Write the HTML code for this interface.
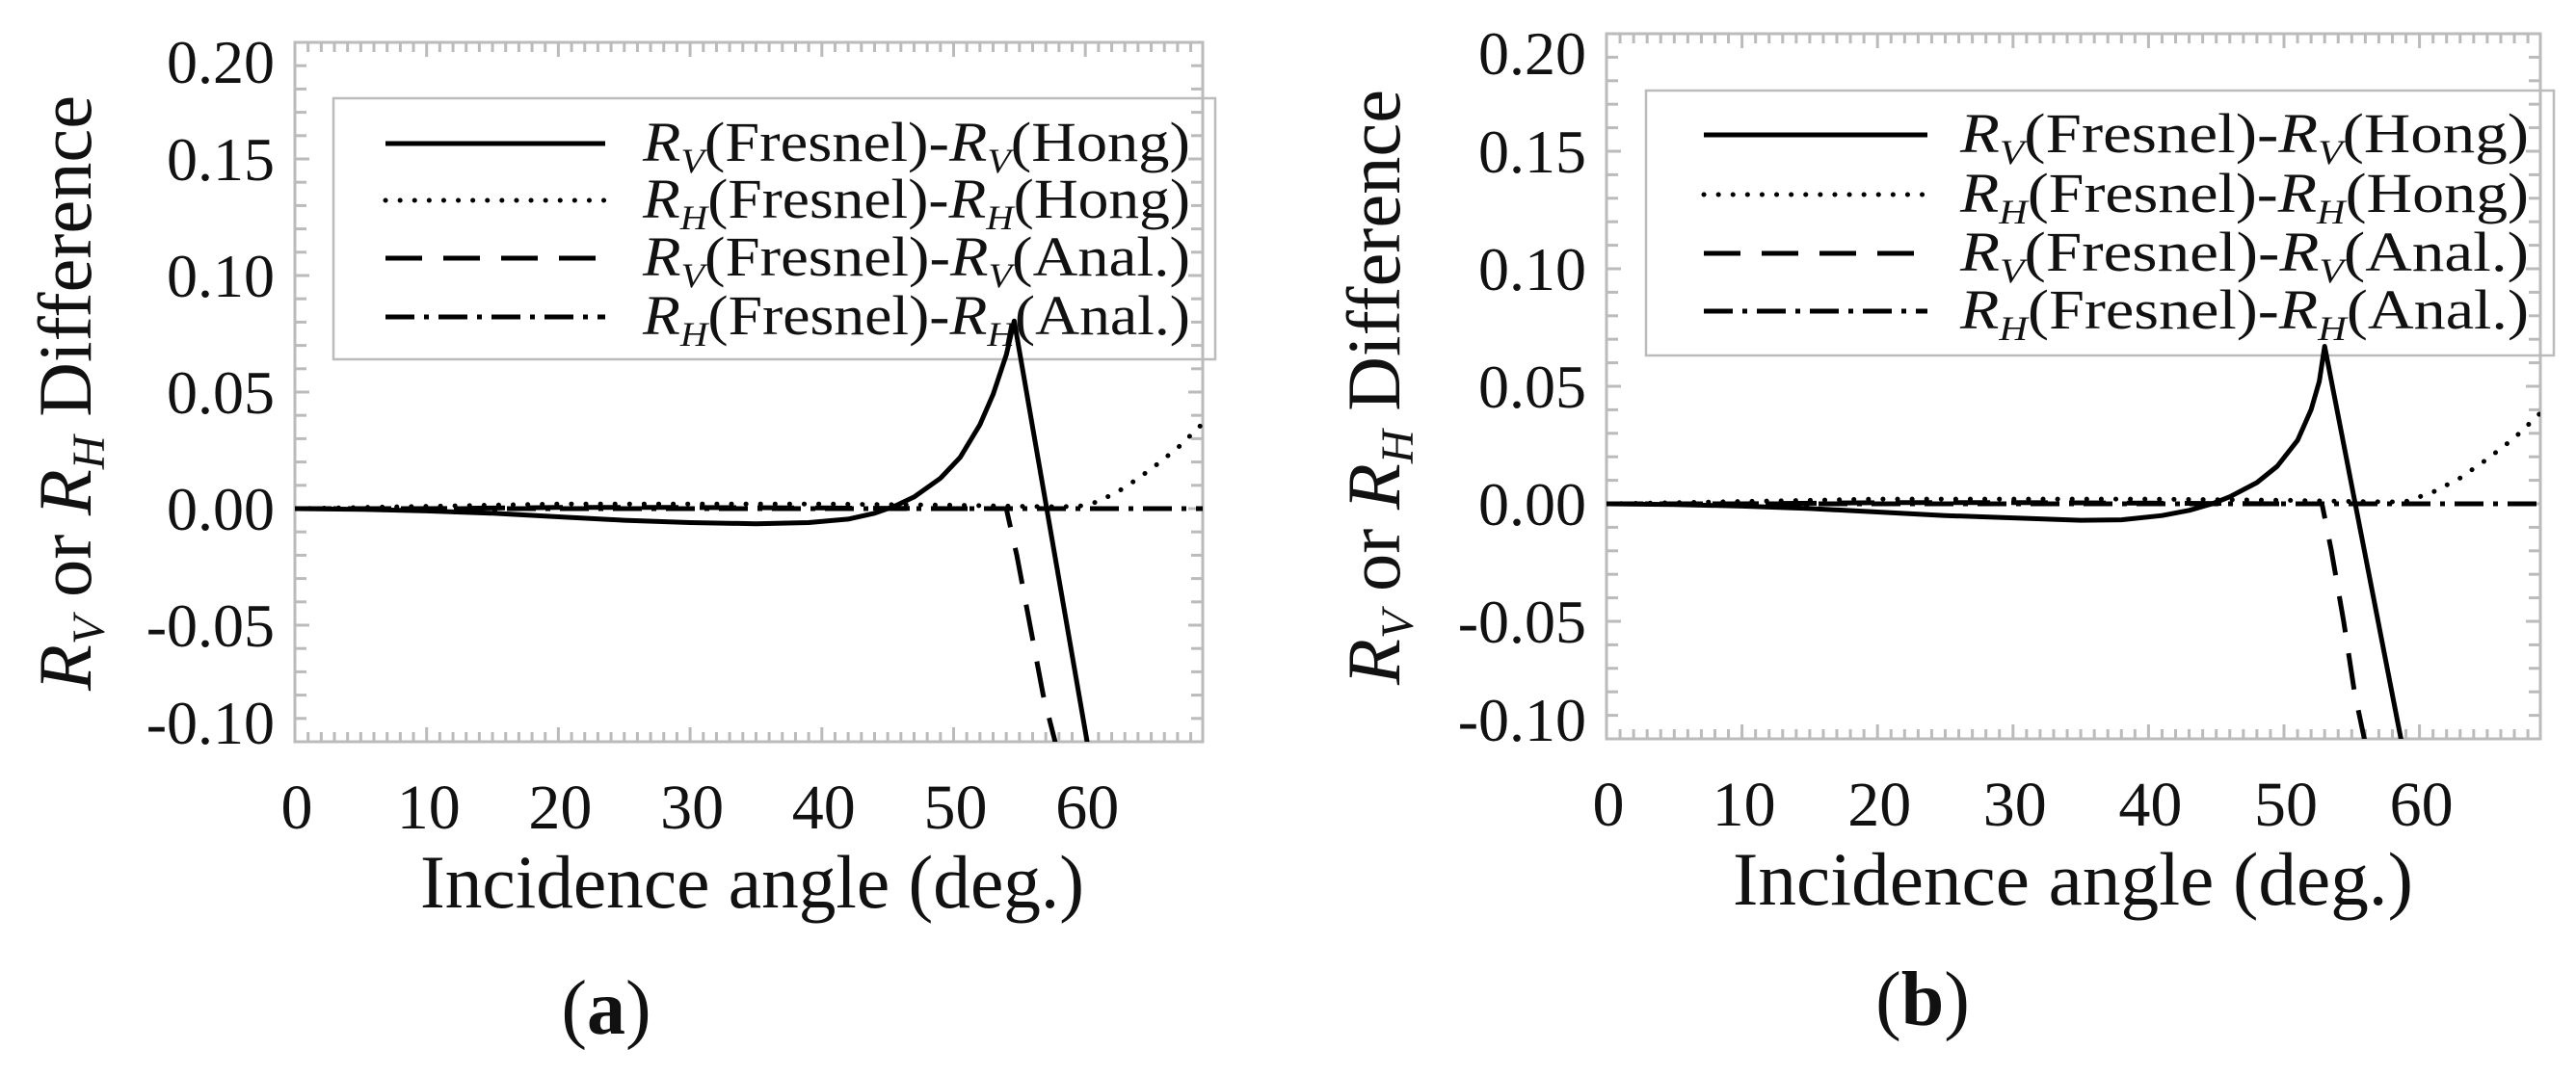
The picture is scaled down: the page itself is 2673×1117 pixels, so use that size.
<!DOCTYPE html>
<html><head><meta charset="utf-8"><style>
html,body{margin:0;padding:0;background:#fff;}
svg{display:block;font-family:"Liberation Serif",serif;}
</style></head><body>
<svg id="fig" width="2673" height="1117" viewBox="0 0 2673 1117" xmlns="http://www.w3.org/2000/svg"></svg>
<script>
// ---- data (angle in degrees, reflectivity difference) ----
const yTickValues = [0.20, 0.15, 0.10, 0.05, 0.00, -0.05, -0.10];
const yTickLabels = ["0.20", "0.15", "0.10", "0.05", "0.00", "-0.05", "-0.10"];
const xTickValues = [0, 10, 20, 30, 40, 50, 60];
const xTickLabels = ["0", "10", "20", "30", "40", "50", "60"];

const aSolidX = [0, 5, 10, 15, 20, 25, 30, 35, 39, 42, 44, 45.5, 47, 49, 50.5, 52, 53, 54, 54.6, 60.2];
const aSolidY = [0, -0.0003, -0.001, -0.002, -0.0035, -0.005, -0.006, -0.0065, -0.006, -0.0045, -0.002, 0.001, 0.005, 0.013, 0.022, 0.036, 0.049, 0.066, 0.0805, -0.102];
const aDotX = [0, 10, 20, 30, 40, 50, 55, 58, 59.5, 61, 63, 65, 67, 69];
const aDotY = [0, 0.001, 0.002, 0.002, 0.002, 0.0015, 0.001, 0.0008, 0.001, 0.003, 0.009, 0.017, 0.026, 0.037];
const aDashX = [0, 10, 20, 30, 40, 50, 54.0, 54.8, 55.8, 56.8, 57.8];
const aDashY = [0, 0, 0.0005, 0.0005, 0.0003, 0, 0, -0.02, -0.05, -0.08, -0.102];
const aDashDotX = [0, 69];
const aDashDotY = [0, 0];

const bSolidX = [0, 5, 10, 15, 20, 25, 30, 35, 38, 41, 43, 44.7, 46, 48, 49.5, 51, 52, 52.6, 53.0, 58.7];
const bSolidY = [0, -0.0003, -0.001, -0.002, -0.0035, -0.005, -0.006, -0.007, -0.0068, -0.005, -0.0028, 0, 0.003, 0.009, 0.016, 0.027, 0.040, 0.052, 0.067, -0.102];
const bDotX = [0, 10, 20, 30, 40, 50, 55, 58, 59, 61, 63, 65, 67, 69];
const bDotY = [0, 0.001, 0.002, 0.002, 0.002, 0.0015, 0.001, 0.0008, 0.001, 0.005, 0.011, 0.019, 0.028, 0.039];
const bDashX = [0, 10, 20, 30, 40, 50, 52.8, 53.5, 54.4, 55.2, 56.0];
const bDashY = [0, 0, 0.0005, 0.0005, 0.0003, 0, 0, -0.02, -0.05, -0.08, -0.102];
const bDashDotX = [0, 69];
const bDashDotY = [0, 0];

const legendLabels = [["V","Hong"],["H","Hong"],["V","Anal."],["H","Anal."]];

const NS = "http://www.w3.org/2000/svg";
const svg = document.getElementById("fig");
function mk(tag, attrs, parent){ const e=document.createElementNS(NS,tag); for(const k in attrs) e.setAttribute(k,attrs[k]); (parent||svg).appendChild(e); return e; }

const styles = [
  {w:5, dash:"none", cap:"butt"},
  {w:5, dash:"0.1 15", cap:"round"},
  {w:5, dash:"38 22", cap:"butt"},
  {w:5, dash:"30 10 5 10", cap:"butt"}
];

function panel(p){
  const g = mk("g",{});
  
  
  const xs = v => p.left + (v - 0) * p.pxDeg;
  const ys = v => p.zero - v * p.pxUnit;
  const right = p.right, top = p.top, bottom = p.bottom, left = p.left;
  const cp = mk("clipPath",{id:p.id+"-clip"},g);
  mk("rect",{x:left,y:top,width:right-left,height:bottom-top},cp);
  const fr = mk("rect",{x:left,y:top,width:right-left,height:bottom-top,fill:"none",stroke:"#bbb","stroke-width":3},g);
  
  
  for(let i=-10;i<=20;i++){
    const y = ys(i/100); if(y<top-1||y>bottom+1) continue;
    const len = (i%5===0)?15:12;
    mk("line",{x1:left,x2:left+len,y1:y,y2:y,stroke:"#bbb","stroke-width":3},g);
    mk("line",{x1:right,x2:right-len,y1:y,y2:y,stroke:"#bbb","stroke-width":3},g);
  }
  for(let d=1; xs(d)<right-2; d++){
    const x = xs(d); const len=(d%10===0)?15:10;
    mk("line",{x1:x,x2:x,y1:top,y2:top+len,stroke:"#bbb","stroke-width":3},g);
    mk("line",{x1:x,x2:x,y1:bottom,y2:bottom-len,stroke:"#bbb","stroke-width":3},g);
  }
  yTickValues.forEach((v,i)=>{
    let y = ys(v)+22;
    if(i===0) y = p.top + 42;
    if(i===yTickValues.length-1) y = p.bottom + 2;
    const t = mk("text",{x:left-21,y:y,"text-anchor":"end","font-size":64,fill:"#111"},g);
    t.textContent = yTickLabels[i];
    
    
  });
  xTickValues.forEach((v,i)=>{
    const t = mk("text",{x:xs(v)+2,y:p.bottom+90,"text-anchor":"middle","font-size":66,fill:"#111"},g);
    t.textContent = xTickLabels[i];
    
    
  });
  // legend (transparent, drawn under series)
  const lg = mk("g",{},g);
  
  
  mk("rect",{x:p.lgL,y:p.lgT,width:p.lgR-p.lgL,height:p.lgB-p.lgT,fill:"none",stroke:"#bbb","stroke-width":2.5},lg);
  legendLabels.forEach((lab,k)=>{
    const cy = p.lgY[k];
    const ln = mk("line",{x1:p.sampL,x2:p.sampR,y1:cy,y2:cy,stroke:"#000","stroke-width":styles[k].w,"stroke-dasharray":styles[k].dash,"stroke-linecap":styles[k].cap},lg);
    
    
    const t = mk("text",{x:p.txtL,y:cy+18,"font-size":58,fill:"#111",textLength:p.txtW,lengthAdjust:"spacingAndGlyphs"},lg);
    t.innerHTML = '<tspan font-style="italic">R</tspan><tspan font-style="italic" font-size="36" dy="12">'+lab[0]+'</tspan><tspan dy="-12">(Fresnel)-</tspan><tspan font-style="italic">R</tspan><tspan font-style="italic" font-size="36" dy="12">'+lab[0]+'</tspan><tspan dy="-12">('+lab[1]+')</tspan>';
    
    
  });
  const sets = [[p.sx,p.sy],[p.dx,p.dy],[p.ex,p.ey],[p.fx,p.fy]];
  const names = ["series-rv-hong","series-rh-hong","series-rv-anal","series-rh-anal"];
  sets.forEach((s,k)=>{
    const pts = s[0].map((x,i)=>xs(x).toFixed(1)+","+ys(s[1][i]).toFixed(1)).join(" ");
    const pl = mk("polyline",{points:pts,fill:"none",stroke:"#000","stroke-width":styles[k].w,"stroke-dasharray":styles[k].dash,"stroke-linecap":styles[k].cap,"stroke-linejoin":"round","clip-path":"url(#"+p.id+"-clip)"},g);
    
    
  });
  const xt = mk("text",{x:p.xtL,y:p.bottom+172,"font-size":78,fill:"#111",textLength:p.xtW,lengthAdjust:"spacingAndGlyphs"},g);
  xt.textContent = "Incidence angle (deg.)";
  
  
  const yt = mk("text",{x:0,y:0,"font-size":78,fill:"#111","text-anchor":"middle",transform:"translate("+p.ytX+","+p.ytY+") rotate(-90)",textLength:618,lengthAdjust:"spacingAndGlyphs"},g);
  yt.innerHTML = '<tspan font-style="italic">R</tspan><tspan font-style="italic" font-size="48" dy="14">V</tspan><tspan dy="-14"> or </tspan><tspan font-style="italic">R</tspan><tspan font-style="italic" font-size="48" dy="14">H</tspan><tspan dy="-14"> Difference</tspan>';
  
  
  const cap = mk("text",{x:p.capX,y:p.capY,"font-size":80,fill:"#111","text-anchor":"middle"},g);
  cap.innerHTML = '(<tspan font-weight="bold">'+p.cap+'</tspan>)';
  
  
}

panel({id:"panel-a",left:306,right:1248,top:44,bottom:770,zero:528,pxUnit:2420,pxDeg:13.67,
  sx:aSolidX,sy:aSolidY,dx:aDotX,dy:aDotY,ex:aDashX,ey:aDashY,fx:aDashDotX,fy:aDashDotY,
  lgL:346,lgR:1261,lgT:102,lgB:373,lgY:[149,208,268,329],sampL:400,sampR:628,txtL:667,txtW:568,
  xtL:436,xtW:689,ytX:94,ytY:408,capX:629,capY:1073,cap:"a"});
panel({id:"panel-b",left:1667,right:2636,top:35,bottom:767,zero:523,pxUnit:2440,pxDeg:14.06,
  sx:bSolidX,sy:bSolidY,dx:bDotX,dy:bDotY,ex:bDashX,ey:bDashY,fx:bDashDotX,fy:bDashDotY,
  lgL:1708,lgR:2650,lgT:94,lgB:369,lgY:[140,202,263,323],sampL:1768,sampR:2000,txtL:2034,txtW:590,
  xtL:1798,xtW:706,ytX:1452,ytY:402,capX:1995,capY:1064,cap:"b"});
</script>
</body></html>
